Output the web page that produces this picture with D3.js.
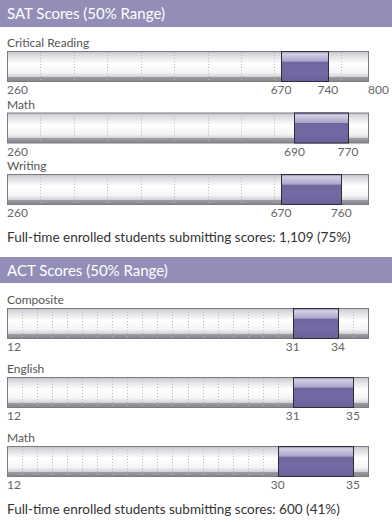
<!DOCTYPE html>
<html>
<head>
<meta charset="utf-8">
<script src="https://cdn.jsdelivr.net/npm/d3@7"></script>
<style>
  body { margin: 0; background: #fff; }
  svg { display: block; font-family: Lato, "Open Sans", sans-serif; }
</style>
</head>
<body>
<div id="chart"></div>
<script>
// SAT data
const satTitle = "SAT Scores (50% Range)";
const satSubjects = ["Critical Reading", "Math", "Writing"];
const satLow = [670, 690, 670];
const satHigh = [740, 770, 760];
const satDomain = [260, 800];
const satShowMax = [true, false, false];
const satFooter = "Full-time enrolled students submitting scores: 1,109 (75%)";

// ACT data
const actTitle = "ACT Scores (50% Range)";
const actSubjects = ["Composite", "English", "Math"];
const actLow = [31, 31, 30];
const actHigh = [34, 35, 35];
const actDomain = [12, 36];
const actShowMax = [false, false, false];
const actFooter = "Full-time enrolled students submitting scores: 600 (41%)";

const width = 392, height = 526;
const barLeft = 7, barRight = 368, barH = 30;

const svg = d3.select("#chart").append("svg")
  .attr("width", width)
  .attr("height", height);

const defs = svg.append("defs");

// track gradient (grey - white - grey, darker stripe at bottom)
const track = defs.append("linearGradient")
  .attr("id", "track").attr("x1", 0).attr("y1", 0).attr("x2", 0).attr("y2", 1);
[[0, "#c4c5ca"], [0.12, "#dcdde0"], [0.4, "#ffffff"], [0.7, "#f4f4f6"], [0.84, "#d2d3d7"],
 [0.85, "#9c9ea4"], [1, "#84868c"]]
  .forEach(([o, c]) => track.append("stop").attr("offset", o).attr("stop-color", c));

// range band gradient
const band = defs.append("linearGradient")
  .attr("id", "band").attr("x1", 0).attr("y1", 0).attr("x2", 0).attr("y2", 1);
[[0, "#8f88b4"], [0.08, "#d3cfe4"], [0.33, "#aaa4c9"], [0.34, "#6f66a0"], [0.7, "#746aa3"], [1, "#6a6098"]]
  .forEach(([o, c]) => band.append("stop").attr("offset", o).attr("stop-color", c));

function drawSection(opts) {
  const { title, subjects, low, high, domain, showMax, footer, top, headerH, firstBar, pitch, grid } = opts;
  const x = d3.scaleLinear().domain(domain).range([barLeft, barRight]);

  svg.append("rect")
    .attr("x", 0).attr("y", top)
    .attr("width", width).attr("height", headerH)
    .attr("fill", "#928eb7");
  svg.append("text")
    .attr("x", 7).attr("y", top + headerH / 2 + 5.5)
    .attr("fill", "#fff")
    .attr("font-size", 15)
    .text(title);

  const rows = svg.append("g").selectAll("g")
    .data(subjects.map((s, i) => ({ name: s, low: low[i], high: high[i], showMax: showMax[i] })))
    .join("g")
    .attr("transform", (d, i) => `translate(0,${firstBar + i * pitch})`);

  rows.append("text")
    .attr("x", 7).attr("y", -4)
    .attr("fill", "#555")
    .attr("font-size", 12)
    .text(d => d.name);

  rows.append("rect")
    .attr("x", x(domain[0]) + 0.5).attr("y", 0.5)
    .attr("width", x(domain[1]) - x(domain[0])).attr("height", barH)
    .attr("fill", "url(#track)")
    .attr("stroke", "#7a7c82");

  rows.each(function () {
    d3.select(this).append("g").selectAll("line")
      .data(grid)
      .join("line")
      .attr("x1", d => Math.round(x(d)) + 0.5).attr("x2", d => Math.round(x(d)) + 0.5)
      .attr("y1", 1).attr("y2", barH)
      .attr("stroke", "#b8b9be")
      .attr("stroke-dasharray", "1,2");
  });

  rows.append("rect")
    .attr("x", d => Math.round(x(d.low)) + 0.5).attr("y", 0.5)
    .attr("width", d => Math.round(x(d.high)) - Math.round(x(d.low))).attr("height", barH)
    .attr("fill", "url(#band)")
    .attr("stroke", "#2f2c3c");

  const tickY = barH + 13;
  rows.append("text")
    .attr("x", x(domain[0])).attr("y", tickY)
    .attr("fill", "#666").attr("font-size", 12)
    .text(domain[0]);
  rows.append("text")
    .attr("x", d => x(d.low)).attr("y", tickY)
    .attr("text-anchor", "middle")
    .attr("fill", "#666").attr("font-size", 12)
    .text(d => d.low);
  rows.append("text")
    .attr("x", d => x(d.high)).attr("y", tickY)
    .attr("text-anchor", "middle")
    .attr("fill", "#666").attr("font-size", 12)
    .text(d => d.high);
  rows.filter(d => d.showMax).append("text")
    .attr("x", x(domain[1])).attr("y", tickY)
    .attr("fill", "#666").attr("font-size", 12)
    .text(domain[1]);

  svg.append("text")
    .attr("x", 7).attr("y", firstBar + (subjects.length - 1) * pitch + barH + 38)
    .attr("fill", "#333")
    .attr("font-size", 13.5)
    .text(footer);
}

drawSection({
  title: satTitle, subjects: satSubjects, low: satLow, high: satHigh,
  domain: satDomain, showMax: satShowMax, footer: satFooter,
  top: 0, headerH: 27, firstBar: 51, pitch: 61.5,
  grid: d3.range(310, 800, 50)
});

drawSection({
  title: actTitle, subjects: actSubjects, low: actLow, high: actHigh,
  domain: actDomain, showMax: actShowMax, footer: actFooter,
  top: 257, headerH: 26, firstBar: 308, pitch: 69,
  grid: d3.range(13, 36, 1)
});
</script>
</body>
</html>
